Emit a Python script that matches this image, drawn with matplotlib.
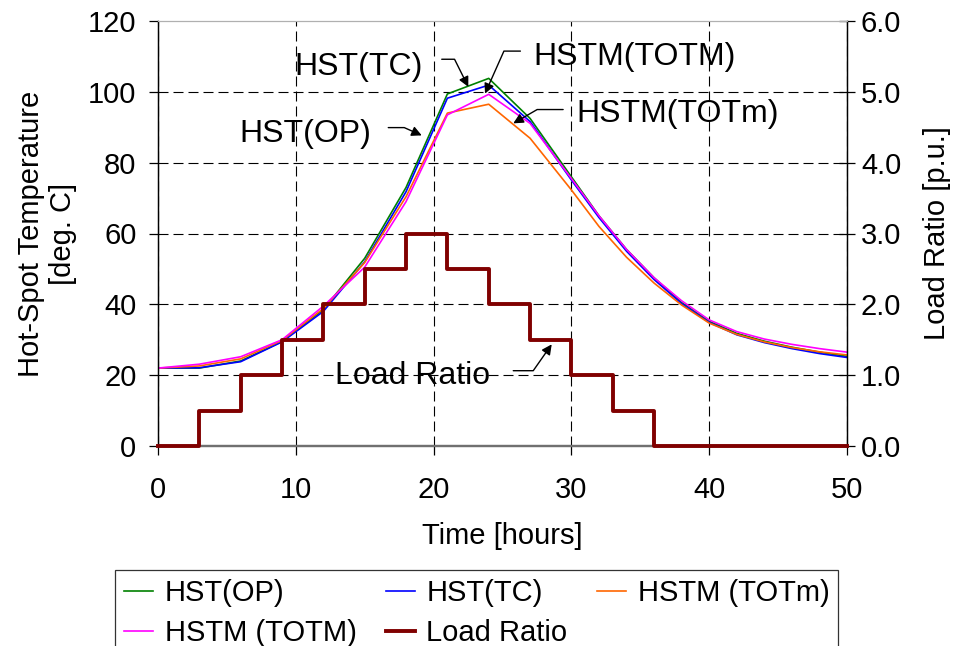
import matplotlib
matplotlib.use('Agg')
import matplotlib.pyplot as plt
import numpy as np

plt.rcParams['font.family'] = ['Liberation Sans', 'DejaVu Sans']

### data
time = [0, 3, 6, 9, 12, 15, 18, 21, 24, 27, 30, 32, 34, 36, 38, 40, 42, 44, 46, 48, 50]
hst_op = [22, 22, 24, 29.5, 38.5, 53, 73, 99.4, 103.8, 92.5, 76, 65, 55.5, 47.5, 40.5, 35.2, 31.8, 29.6, 27.9, 26.5, 25.3]
hst_tc = [22, 22.1, 23.8, 29.4, 38, 52, 71.8, 98.2, 101.9, 91.6, 75.1, 64.5, 55, 47, 40.2, 34.9, 31.4, 29.2, 27.5, 26.1, 25.0]
hstm_totm_low = [22, 22.6, 24.6, 29.8, 38.8, 51.8, 70.4, 94, 96.5, 86.9, 72.3, 62, 53.3, 46, 39.8, 34.7, 31.5, 29.4, 27.8, 26.6, 25.7]
hstm_totm_up = [22, 23.1, 25.2, 30, 39.5, 50.5, 69, 93.5, 99.3, 91.1, 75.5, 65, 55.5, 47.5, 41, 35.6, 32.3, 30.2, 28.7, 27.5, 26.5]

load_time = [0, 3, 6, 9, 12, 15, 18, 21, 24, 27, 30, 33, 36, 50]
load_ratio = [0, 0.5, 1.0, 1.5, 2.0, 2.5, 3.0, 2.5, 2.0, 1.5, 1.0, 0.5, 0, 0]

fs = 21
fig = plt.figure(figsize=(9.54, 6.46), dpi=100)
ax = fig.add_axes([158 / 954, 200 / 646, 689 / 954, 425 / 646])
ax2 = ax.twinx()

l1, = ax.plot(time, hst_op, color='#008000', lw=1.2, label='HST(OP)')
l2, = ax.plot(time, hst_tc, color='#0000FF', lw=1.2, label='HST(TC)')
l3, = ax.plot(time, hstm_totm_low, color='#FF6600', lw=1.2, label='HSTM (TOTm)')
l4, = ax.plot(time, hstm_totm_up, color='#FF00FF', lw=1.2, label='HSTM (TOTM)')
l5, = ax2.step(load_time, load_ratio, where='post', color='#800000', lw=2.8,
               label='Load Ratio', clip_on=False, zorder=5)

ax.set_xlim(0, 50)
ax.set_ylim(0, 120)
ax.set_xticks(np.arange(0, 51, 10))
ax.set_yticks(np.arange(0, 121, 20))
ax2.set_ylim(0, 6)
ax2.set_yticks(np.arange(0, 6.1, 1.0))
ax2.set_yticklabels(['%.1f' % v for v in np.arange(0, 6.1, 1.0)])

ax.grid(True, color='black', lw=0.8, linestyle=(0, (9, 4.5)))
ax.set_axisbelow(True)
ax.get_ygridlines()[-1].set_visible(False)
ax.get_ygridlines()[0].set_visible(False)

for a in (ax, ax2):
    a.spines['top'].set_color('#b0b0b0')
    a.spines['top'].set_linewidth(0.8)
    a.spines['bottom'].set_color('#707070')
    a.spines['bottom'].set_linewidth(1.6)
    a.spines['left'].set_color('black')
    a.spines['right'].set_color('black')
    a.spines['left'].set_linewidth(0.9)
    a.spines['right'].set_linewidth(0.9)

ax.tick_params(axis='x', direction='out', length=6.5, width=0.9, labelsize=fs, pad=15)
ax.tick_params(axis='y', direction='out', length=6.5, width=0.9, labelsize=fs, pad=9)
ax2.tick_params(axis='y', direction='inout', length=12, width=0.9, labelsize=fs, pad=4)

ax.set_xlabel('Time [hours]', fontsize=fs)
ax.xaxis.set_label_coords(0.5, -0.18)
ax.set_ylabel('Hot-Spot Temperature\n[deg. C]', fontsize=fs, linespacing=1.15)
ax.yaxis.set_label_coords(-0.118, 0.5)
ax2.set_ylabel('Load Ratio [p.u.]', fontsize=fs)
ax2.yaxis.set_label_coords(1.11, 0.5)

### callouts
afs = 23
arrow = dict(arrowstyle='-|>', color='black', lw=1.0, shrinkA=0, shrinkB=0, mutation_scale=15)
ax.text(14.59, 106.9, 'HST(TC)', fontsize=afs, ha='center', va='center')
ax.annotate('', xy=(22.52, 101.4), xytext=(20.59, 109.2),
            arrowprops=dict(arrow, connectionstyle='angle,angleA=0,angleB=-63.5,rad=0'))
ax.text(34.6, 109.7, 'HSTM(TOTM)', fontsize=afs, ha='center', va='center')
ax.annotate('', xy=(23.73, 99.5), xytext=(26.3, 111.5),
            arrowprops=dict(arrow, connectionstyle='angle,angleA=0,angleB=66,rad=0'))
ax.text(37.7, 93.7, 'HSTM(TOTm)', fontsize=afs, ha='center', va='center')
ax.annotate('', xy=(25.78, 91.1), xytext=(29.4, 95.0),
            arrowprops=dict(arrow, connectionstyle='angle,angleA=0,angleB=30,rad=0'))
ax.text(10.67, 88.1, 'HST(OP)', fontsize=afs, ha='center', va='center')
ax.annotate('', xy=(19.14, 87.7), xytext=(16.71, 89.9),
            arrowprops=dict(arrow, connectionstyle='angle,angleA=0,angleB=-24,rad=0'))
ax.text(18.5, 19.8, 'Load Ratio', fontsize=afs, ha='center', va='center')
ax.annotate('', xy=(28.57, 28.7), xytext=(25.78, 21.26),
            arrowprops=dict(arrow, connectionstyle='angle,angleA=0,angleB=55,rad=0'))

### legend box at the bottom, filled row by row (cut by figure edge like the reference)
leg = fig.legend(handles=[l1, l4, l2, l5, l3], loc='upper left', ncol=3,
                 bbox_to_anchor=(115 / 954, 1 - 571 / 646, 723 / 954, 0.001), mode='expand',
                 fontsize=fs, frameon=True, fancybox=False, edgecolor='black',
                 handlelength=1.0, handletextpad=0.4, labelspacing=0.42,
                 borderpad=0.3, borderaxespad=0, columnspacing=0.5)
leg.get_frame().set_linewidth(0.9)

plt.savefig('out.png', dpi=100)
